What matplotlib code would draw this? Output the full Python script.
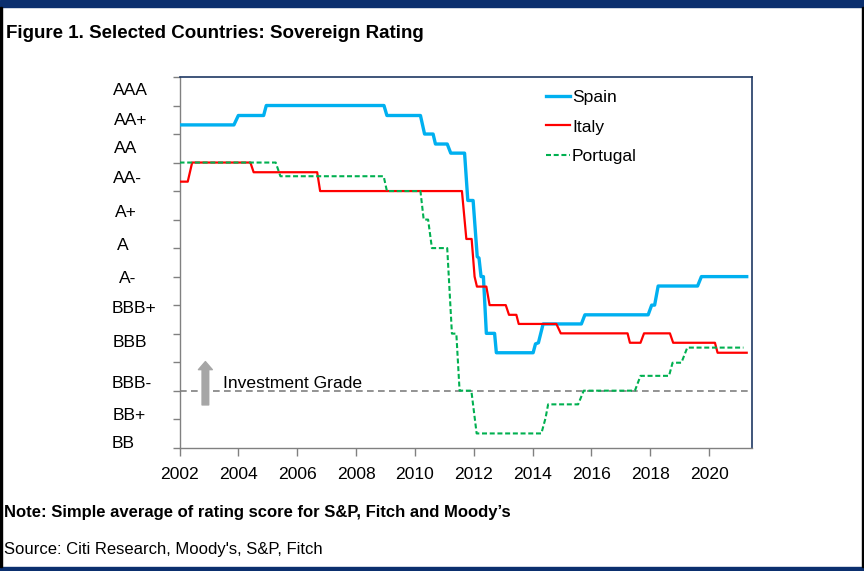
import matplotlib
matplotlib.use("Agg")
import matplotlib.pyplot as plt
import matplotlib.transforms as mtransforms
from matplotlib.patches import Rectangle, FancyArrowPatch
from matplotlib import font_manager

# --- data (rating score: 0 = bottom of axis, 1 unit = 1 notch) ---
spain_t = [2002.0, 2003.85, 2004.0, 2004.86, 2004.95, 2008.95, 2009.05, 2010.19,
           2010.33, 2010.62, 2010.70, 2011.10, 2011.22, 2011.69, 2011.80, 2011.98,
           2012.12, 2012.18, 2012.25, 2012.33, 2012.43, 2012.71, 2012.77, 2014.02,
           2014.10, 2014.20, 2014.36, 2015.66, 2015.78, 2017.93, 2018.05, 2018.15,
           2018.27, 2019.61, 2019.74, 2021.28]
spain_v = [11.32, 11.32, 11.65, 11.65, 12.0, 12.0, 11.65, 11.65,
           11.0, 11.0, 10.65, 10.65, 10.33, 10.33, 8.67, 8.67,
           6.70, 6.65, 6.0, 6.0, 4.01, 4.01, 3.33, 3.33,
           3.64, 3.68, 4.34, 4.34, 4.66, 4.66, 5.0, 5.0,
           5.67, 5.67, 6.0, 6.0]

italy_t = [2002.0, 2002.28, 2002.43, 2004.41, 2004.52, 2006.68, 2006.78, 2011.60,
           2011.75, 2011.93, 2012.03, 2012.11, 2012.43, 2012.54, 2013.09, 2013.20,
           2013.45, 2013.53, 2014.81, 2014.96, 2017.23, 2017.31, 2017.67, 2017.79,
           2018.67, 2018.78, 2020.20, 2020.29, 2021.28]
italy_v = [9.33, 9.33, 10.0, 10.0, 9.66, 9.66, 9.0, 9.0,
           7.32, 7.32, 6.0, 5.65, 5.65, 5.0, 5.0, 4.66,
           4.66, 4.34, 4.34, 4.01, 4.01, 3.68, 3.68, 4.01,
           4.01, 3.68, 3.68, 3.33, 3.33]

portugal_t = [2002.0, 2005.27, 2005.43, 2008.94, 2009.05, 2010.19, 2010.30, 2010.45,
              2010.58, 2011.10, 2011.26, 2011.41, 2011.52, 2011.92, 2012.10, 2014.30,
              2014.44, 2014.53, 2015.55, 2015.74, 2017.48, 2017.67, 2018.64, 2018.76,
              2019.06, 2019.26, 2021.17]
portugal_v = [10.0, 10.0, 9.52, 9.52, 9.0, 9.0, 8.0, 8.0,
              7.0, 7.0, 4.0, 4.0, 2.0, 2.0, 0.5, 0.5,
              1.03, 1.52, 1.52, 2.0, 2.0, 2.52, 2.52, 2.98,
              2.98, 3.51, 3.51]

investment_grade = 2.0
years = list(range(2002, 2021, 2))
rating_labels = ["AAA", "AA+", "AA", "AA-", "A+", "A", "A-",
                 "BBB+", "BBB", "BBB-", "BB+", "BB"]

# layout of the hand-placed rating labels (baseline in score units, left edge in px)
label_base = [12.37, 11.32, 10.33, 9.28, 8.10, 6.94, 5.77, 4.72, 3.54, 2.09, 0.97, -0.02]
label_left = [112.7, 114, 114, 113, 115, 117, 119, 111.7, 112.7, 111.7, 112.7, 111.7]

navy = "#0b2f6e"
W, H = 864, 571

# chart text is a narrow Arial in the original; use a narrow face if one is installed
narrow = [f.fname for f in font_manager.fontManager.ttflist
          if "SansNarrow-Regular" in f.fname or f.name == "Liberation Sans Narrow"]
if narrow:
    chart_size = 15.4
    chart_fp = font_manager.FontProperties(fname=narrow[0], size=chart_size)
else:
    chart_size = 12.6
    chart_fp = font_manager.FontProperties(family="Liberation Sans", size=chart_size)
em_px = chart_size * 100 / 72

plt.rcParams["font.family"] = ["Liberation Sans", "DejaVu Sans"]

fig = plt.figure(figsize=(W / 100, H / 100), dpi=100)
fig.patch.set_facecolor("white")

# frame of the exhibit
fig.patches.append(Rectangle((0, 1 - 7 / H), 1, 7 / H, transform=fig.transFigure,
                             color=navy, zorder=0))
fig.patches.append(Rectangle((0, 0), 1, 4 / H, transform=fig.transFigure,
                             color=navy, zorder=0))
fig.patches.append(Rectangle((0, 4 / H), 2 / W, 1 - 11 / H, transform=fig.transFigure,
                             color="black", zorder=0))
fig.patches.append(Rectangle((1 - 2 / W, 4 / H), 2 / W, 1 - 11 / H,
                             transform=fig.transFigure, color="black", zorder=0))

ax_l, ax_r, ax_t, ax_b = 179.5, 752.3, 77.0, 447.7
ax = fig.add_axes([ax_l / W, 1 - ax_b / H, (ax_r - ax_l) / W, (ax_b - ax_t) / H])

ax.axhline(investment_grade, color="#808080", lw=1.2, dashes=(4, 2.6), zorder=1)

ax.plot(spain_t, spain_v, color="#00B0F0", lw=2.4, label="Spain", zorder=3)
ax.plot(italy_t, italy_v, color="#FF0000", lw=1.6, label="Italy", zorder=3)
ax.plot(portugal_t, portugal_v, color="#00B050", lw=1.5, dashes=(2.4, 1.3),
        label="Portugal", zorder=3)

ax.set_xlim(2002, 2021.47)
ax.set_ylim(0, 13)
ax.set_xticks(years)
ax.set_xticklabels([str(y) for y in years], fontproperties=chart_fp)
ax.set_yticks(range(0, 14))
ax.set_yticklabels([])
ax.tick_params(axis="x", direction="out", length=5.5, width=1, color="#808080", pad=8.5)
ax.tick_params(axis="y", direction="out", length=4.8, width=1, color="#808080")

for side in ["left", "bottom"]:
    ax.spines[side].set_color("#808080")
    ax.spines[side].set_linewidth(1.0)
for side in ["top", "right"]:
    ax.spines[side].set_color("#1f3864")
    ax.spines[side].set_linewidth(1.2)

trans = mtransforms.blended_transform_factory(fig.transFigure, ax.transData)
for lab, yb, xl in zip(rating_labels, label_base, label_left):
    ax.text(xl / W, yb, lab, transform=trans, ha="left", va="baseline",
            fontproperties=chart_fp, clip_on=False)

# investment grade marker
arrow = FancyArrowPatch((2002.88, 1.5), (2002.88, 3.02),
                        arrowstyle="simple,head_length=5.8,head_width=10,tail_width=4.8",
                        mutation_scale=1, color="#A6A6A6", shrinkA=0, shrinkB=0, zorder=2)
ax.add_patch(arrow)
ax.text(2003.47, 2.08, "Investment Grade", ha="left", va="baseline",
        fontproperties=chart_fp)

leg = ax.legend(loc="upper left", bbox_to_anchor=((546 - ax_l) / (ax_r - ax_l),
                                                  (ax_b - 90) / (ax_b - ax_t)),
                frameon=False, borderpad=0, borderaxespad=0,
                handlelength=24 / em_px, handletextpad=2 / em_px,
                labelspacing=(30.5 - 0.94 * em_px) / em_px,
                prop=chart_fp)

fig.text(5.5 / W, 1 - 38.3 / H, "Figure 1. Selected Countries: Sovereign Rating",
         fontsize=13.5, fontweight="bold", ha="left", va="baseline")
fig.text(4 / W, 1 - 516.7 / H,
         "Note: Simple average of rating score for S&P, Fitch and Moody\u2019s",
         fontsize=12, fontweight="bold", ha="left", va="baseline")
fig.text(4 / W, 1 - 554 / H, "Source: Citi Research, Moody's, S&P, Fitch",
         fontsize=12, ha="left", va="baseline")

fig.savefig("out.png", dpi=100, facecolor="white")
